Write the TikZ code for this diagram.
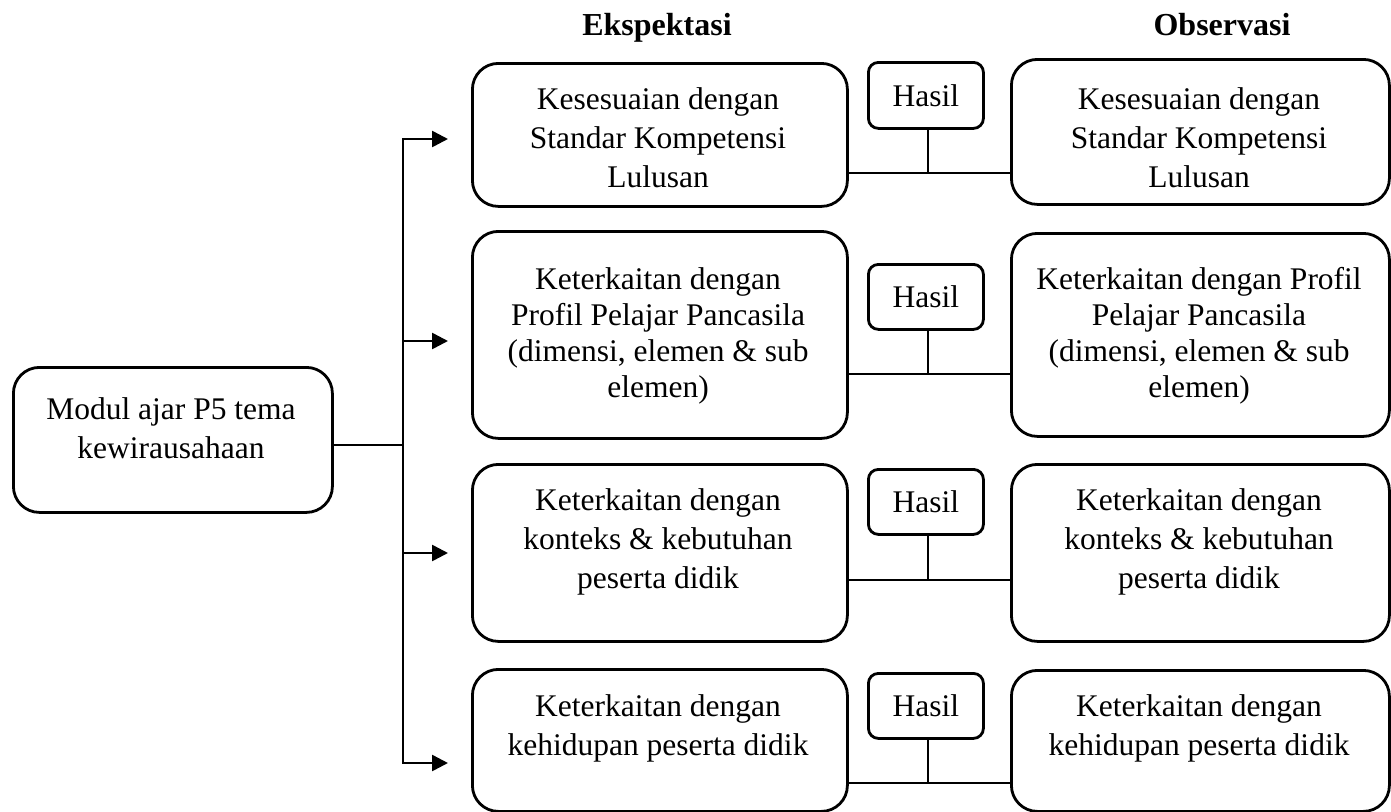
\documentclass[tikz,border=0pt]{standalone}
\usepackage{fontspec}
\setmainfont{Liberation Serif}
\usetikzlibrary{arrows.meta,calc}
\tikzset{
  rbox/.style={draw, line width=2.8pt, rounded corners=26pt, inner sep=0pt, anchor=north west},
  hbox/.style={draw, line width=2.8pt, rounded corners=10pt, inner sep=0pt, anchor=north west,
     font=\fontsize{31.5}{38}\selectfont},
  txt/.style={align=center, inner sep=0pt, font=\fontsize{31.5}{39}\selectfont},
  txtb/.style={align=center, inner sep=0pt, font=\fontsize{31.5}{36}\selectfont},
  hdr/.style={inner sep=0pt, anchor=base, font=\fontsize{32}{38}\selectfont\bfseries},
  conn/.style={line width=2.6pt},
  arr/.style={line width=2.6pt, -{Triangle[length=16pt,width=16pt]}, shorten >=23pt},
}
\begin{document}
\begin{tikzpicture}[x=1pt,y=-1pt]
\useasboundingbox (0,0) rectangle (1391,811);
% headers
\node[hdr] (he) at (657,35) {Ekspektasi};
\node[hdr] (ho) at (1222,35) {Observasi};
% left box
\node[rbox, minimum width=319pt, minimum height=145pt] (L) at (12,366) {};
\node[txt] (Lt) at (171,428) {Modul ajar P5 tema\\kewirausahaan};
% expectation boxes
\node[rbox, minimum width=375pt, minimum height=143pt] (E1) at (471,62) {};
\node[rbox, minimum width=375pt, minimum height=207pt] (E2) at (471,230) {};
\node[rbox, minimum width=375pt, minimum height=177pt] (E3) at (471,463) {};
\node[rbox, minimum width=375pt, minimum height=142pt] (E4) at (471,668) {};
% observation boxes
\node[rbox, minimum width=378pt, minimum height=145pt] (O1) at (1010,58) {};
\node[rbox, minimum width=378pt, minimum height=203pt] (O2) at (1010,232) {};
\node[rbox, minimum width=378pt, minimum height=177pt] (O3) at (1010,463) {};
\node[rbox, minimum width=378pt, minimum height=141pt] (O4) at (1010,669) {};
% Hasil boxes
\node[hbox, minimum width=115pt, minimum height=66pt] (H1) at (867,61) {Hasil};
\node[hbox, minimum width=115pt, minimum height=65pt] (H2) at (867,263) {Hasil};
\node[hbox, minimum width=115pt, minimum height=65pt] (H3) at (867,468) {Hasil};
\node[hbox, minimum width=115pt, minimum height=65pt] (H4) at (867,672) {Hasil};
% texts
\node[txt] (E1t) at (658,138) {Kesesuaian dengan\\Standar Kompetensi\\Lulusan};
\node[txtb] (E2t) at (658,336) {Keterkaitan dengan\\Profil Pelajar Pancasila\\(dimensi, elemen \& sub\\elemen)};
\node[txt] (E3t) at (658,542) {Keterkaitan dengan\\konteks \& kebutuhan\\peserta didik};
\node[txt] (E4t) at (658,728) {Keterkaitan dengan\\kehidupan peserta didik};
\node[txt] (O1t) at (1199,138) {Kesesuaian dengan\\Standar Kompetensi\\Lulusan};
\node[txtb] (O2t) at (1199,336) {Keterkaitan dengan Profil\\Pelajar Pancasila\\(dimensi, elemen \& sub\\elemen)};
\node[txt] (O3t) at (1199,542) {Keterkaitan dengan\\konteks \& kebutuhan\\peserta didik};
\node[txt] (O4t) at (1199,728) {Keterkaitan dengan\\kehidupan peserta didik};
% trunk
\coordinate (j) at (403,445);
\coordinate (t1) at (403,139);
\coordinate (t2) at (403,341);
\coordinate (t3) at (403,553);
\coordinate (t4) at (403,763);
\draw[conn] (L.east |- j) -- (j);
\draw[conn, line cap=rect] (t1) -- (t4);
\draw[arr] (t1) -- (t1 -| E1.west);
\draw[arr] (t2) -- (t2 -| E2.west);
\draw[arr] (t3) -- (t3 -| E3.west);
\draw[arr] (t4) -- (t4 -| E4.west);
% result connectors
\coordinate (r1) at (928,173);
\coordinate (r2) at (928,374);
\coordinate (r3) at (928,580);
\coordinate (r4) at (928,783);
\draw[conn] (r1 -| E1.east) -- (r1 -| O1.west);
\draw[conn] (r2 -| E2.east) -- (r2 -| O2.west);
\draw[conn] (r3 -| E3.east) -- (r3 -| O3.west);
\draw[conn] (r4 -| E4.east) -- (r4 -| O4.west);
\draw[conn] (H1.south -| r1) -- (r1);
\draw[conn] (H2.south -| r2) -- (r2);
\draw[conn] (H3.south -| r3) -- (r3);
\draw[conn] (H4.south -| r4) -- (r4);
\end{tikzpicture}
\end{document}
